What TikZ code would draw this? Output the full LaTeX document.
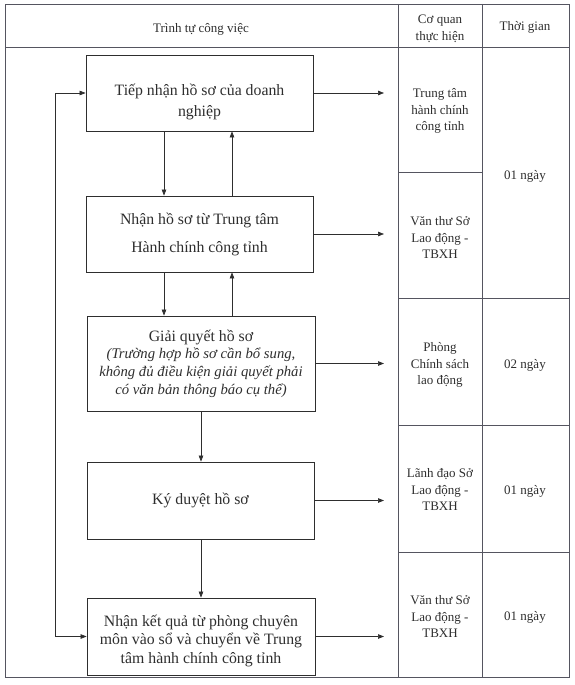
\documentclass[tikz,border=0pt]{standalone}
\usepackage{fontspec}
\setmainfont{Liberation Serif}
\usetikzlibrary{arrows.meta}
\definecolor{ink}{HTML}{2E2E2E}
\definecolor{rule}{HTML}{555560}
\newcommand\mynotefont{\fontsize{14.7}{17.7}\selectfont\itshape}
\begin{document}
\begin{tikzpicture}[x=1pt,y=-1pt,
  boxtext/.style={align=center,text=ink,inner sep=0pt,font=\fontsize{15.8}{18.5}\selectfont},
  stepbox/.style={draw=ink,line width=0.8pt,minimum width=228pt,inner sep=0pt,boxtext},
  cell/.style={align=center,text=ink,font=\fontsize{13}{16.5}\selectfont,inner sep=0pt},
  flow/.style={draw=ink,line width=0.7pt,-{Triangle[length=6pt,width=4.5pt]}},
  grid/.style={draw=rule,line width=0.6pt}]
\useasboundingbox (0,0) rectangle (575,685);
\fill[white] (0,0) rectangle (575,685);
% table
\draw[grid] (5,4) rectangle (569,677);
\draw[grid] (5,47) -- (569,47);
\draw[grid] (398,4) -- (398,677);
\draw[grid] (482,4) -- (482,677);
\draw[grid] (398,172) -- (482,172);
\draw[grid] (398,298) -- (569,298);
\draw[grid] (398,425) -- (569,425);
\draw[grid] (398,552) -- (569,552);
% header
\node[cell] (h1) at (201,29) {Trình tự công việc};
\node[cell] (h2) at (440,29) {Cơ quan\\thực hiện};
\node[cell] (h3) at (525,27) {Thời gian};
% boxes
\node[stepbox,minimum width=227pt,minimum height=76pt] (b1) at (199.5,93) {};
\node[boxtext,font=\fontsize{15.8}{21}\selectfont] (b1t) at (199.5,102) {Tiếp nhận hồ sơ của doanh\\nghiệp};
\node[stepbox,minimum width=227pt,minimum height=76pt,font=\fontsize{15.8}{28}\selectfont] (b2) at (199.5,234) {Nhận hồ sơ từ Trung tâm\\Hành chính công tỉnh};
\node[stepbox,minimum height=95pt,font=\fontsize{15.8}{17.7}\selectfont] (b3) at (201,363.5) {Giải quyết hồ sơ\\{\mynotefont (Trường hợp hồ sơ cần bổ sung,}\\{\mynotefont không đủ điều kiện giải quyết phải}\\{\mynotefont có văn bản thông báo cụ thể)}};
\node[stepbox,minimum width=227pt,minimum height=77pt] (b4) at (200.5,500.5) {Ký duyệt hồ sơ};
\node[stepbox,minimum height=77pt] (b5) at (201,636.5) {};
\node[boxtext] (b5t) at (201,640.5) {Nhận kết quả từ phòng chuyên\\môn vào sổ và chuyển về Trung\\tâm hành chính công tỉnh};
% agency cells
\node[cell] (a1) at (440,111) {Trung tâm\\hành chính\\công tỉnh};
\node[cell] (a2) at (440,238) {Văn thư Sở\\Lao động -\\TBXH};
\node[cell] (a3) at (440,365) {Phòng\\Chính sách\\lao động};
\node[cell] (a4) at (440,490) {Lãnh đạo Sở\\Lao động -\\TBXH};
\node[cell] (a5) at (440,617) {Văn thư Sở\\Lao động -\\TBXH};
% time cells
\node[cell] (t1) at (525,176) {01 ngày};
\node[cell] (t2) at (525,365.5) {02 ngày};
\node[cell] (t3) at (525,491.5) {01 ngày};
\node[cell] (t4) at (525,617.5) {01 ngày};
% helper coordinates
\coordinate (xd) at (164,0);
\coordinate (xu) at (232,0);
\coordinate (xm) at (201,0);
\coordinate (lx) at (55,0);
\coordinate (ex) at (384,0);
% vertical arrows
\draw[flow] (b1.south -| xd) -- (b2.north -| xd);
\draw[flow] (b2.north -| xu) -- (b1.south -| xu);
\draw[flow] (b2.south -| xd) -- (b3.north -| xd);
\draw[flow] (b3.north -| xu) -- (b2.south -| xu);
\draw[flow] (b3.south -| xm) -- (b4.north -| xm);
\draw[flow] (b4.south -| xm) -- (b5.north -| xm);
% feedback loop
\draw[draw=ink,line width=0.7pt,{Triangle[length=6pt,width=4.5pt]}-{Triangle[length=6pt,width=4.5pt]}]
  (b1.west) -- (b1.west -| lx) -- (b5.west -| lx) -- (b5.west);
% right arrows
\coordinate (e1) at (b1.east -| ex);
\coordinate (e2) at (b2.east -| ex);
\coordinate (e3) at (b3.east -| ex);
\coordinate (e4) at (b4.east -| ex);
\coordinate (e5) at (b5.east -| ex);
\draw[flow] (b1.east) -- (e1);
\draw[flow] (b2.east) -- (e2);
\draw[flow] (b3.east) -- (e3);
\draw[flow] (b4.east) -- (e4);
\draw[flow] (b5.east) -- (e5);
\end{tikzpicture}
\end{document}
